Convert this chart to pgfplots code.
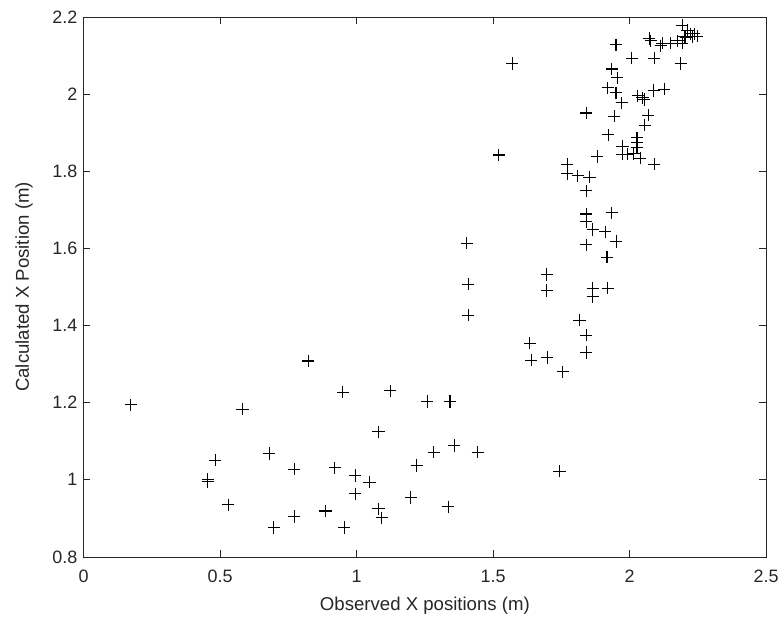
\documentclass[border=0pt]{standalone}
\usepackage{fontspec}
\setmainfont{Liberation Sans}
\usepackage{pgfplots}
\pgfplotsset{compat=1.18}
\definecolor{axgray}{rgb}{0.15,0.15,0.15}

\begin{document}
\begin{tikzpicture}
\begin{axis}[
    scale only axis,
    width=513.75pt, height=406.5pt,
    xmin=0, xmax=2.5, ymin=0.8, ymax=2.2,
    xtick={0,0.5,...,2.5},
    ytick={0.8,1,1.2,1.4,1.6,1.8,2,2.2},
    tick align=inside,
    xtick pos=both, ytick pos=both,
    xticklabel pos=lower, yticklabel pos=left,
    major tick length=5pt,
    axis line style={axgray, line width=0.6pt},
    every tick/.style={axgray, line width=0.6pt},
    tick label style={font=\fontsize{13.5}{16}\selectfont, text=axgray},
    xticklabel style={yshift=-6.5pt},
    yticklabel style={xshift=-1.2pt},
    /pgf/number format/assume math mode=true,
    xlabel={Observed X positions (m)},
    ylabel={Calculated X Position (m)},
    label style={font=\fontsize{14}{17}\selectfont, text=axgray},
    xlabel style={at={(axis description cs:0.5,-0.0664)}, anchor=north},
    ylabel style={at={(axis description cs:-0.1069,0.5)}, anchor=north},
]
\addplot[only marks, mark=+, mark size=4.6pt, line width=0.8pt, black] table {
x y
0.172 1.194
0.454 1.001
0.454 0.995
0.482 1.051
0.529 0.935
0.582 1.183
0.679 1.068
0.697 0.876
0.771 1.027
0.771 0.905
0.822 1.308
0.886 0.919
0.920 1.031
0.949 1.227
0.955 0.876
0.995 1.011
0.995 0.964
1.047 0.994
1.080 1.124
1.080 0.925
1.092 0.901
1.123 1.231
1.198 0.954
1.220 1.037
1.259 1.203
1.283 1.071
1.336 0.930
1.342 1.203
1.358 1.089
1.444 1.071
1.743 1.022
1.403 1.613
1.409 1.507
1.409 1.427
1.697 1.532
1.697 1.491
1.634 1.354
1.640 1.310
1.698 1.317
1.755 1.280
1.816 1.414
1.841 1.375
1.841 1.330
1.865 1.497
1.865 1.474
1.920 1.497
1.841 1.689
1.841 1.669
1.865 1.649
1.934 1.692
1.910 1.643
1.951 1.618
1.841 1.609
1.917 1.577
1.570 2.079
1.521 1.842
1.841 1.951
1.950 2.128
2.008 2.093
2.090 2.093
2.187 2.079
1.935 2.065
1.954 2.042
1.920 2.016
1.950 2.003
1.971 1.977
1.944 1.943
1.922 1.894
1.881 1.838
1.771 1.818
1.771 1.794
1.810 1.788
1.853 1.784
1.841 1.749
1.974 1.865
1.974 1.844
1.993 1.844
2.027 1.887
2.027 1.874
2.027 1.861
2.015 1.846
2.039 1.834
2.090 1.818
2.056 1.919
2.068 1.945
2.030 1.996
2.047 1.990
2.053 1.986
2.088 2.009
2.127 2.013
2.072 2.144
2.078 2.138
2.114 2.125
2.120 2.132
2.151 2.132
2.175 2.138
2.200 2.149
2.193 2.132
2.193 2.179
2.212 2.166
2.224 2.156
2.230 2.149
2.236 2.156
2.248 2.150
2.206 2.147
};
\end{axis}
\path (current axis.south west) ++(-63pt,-49.9pt);
\path (current axis.north east) ++(10.5pt,12.75pt);
\end{tikzpicture}
\end{document}
